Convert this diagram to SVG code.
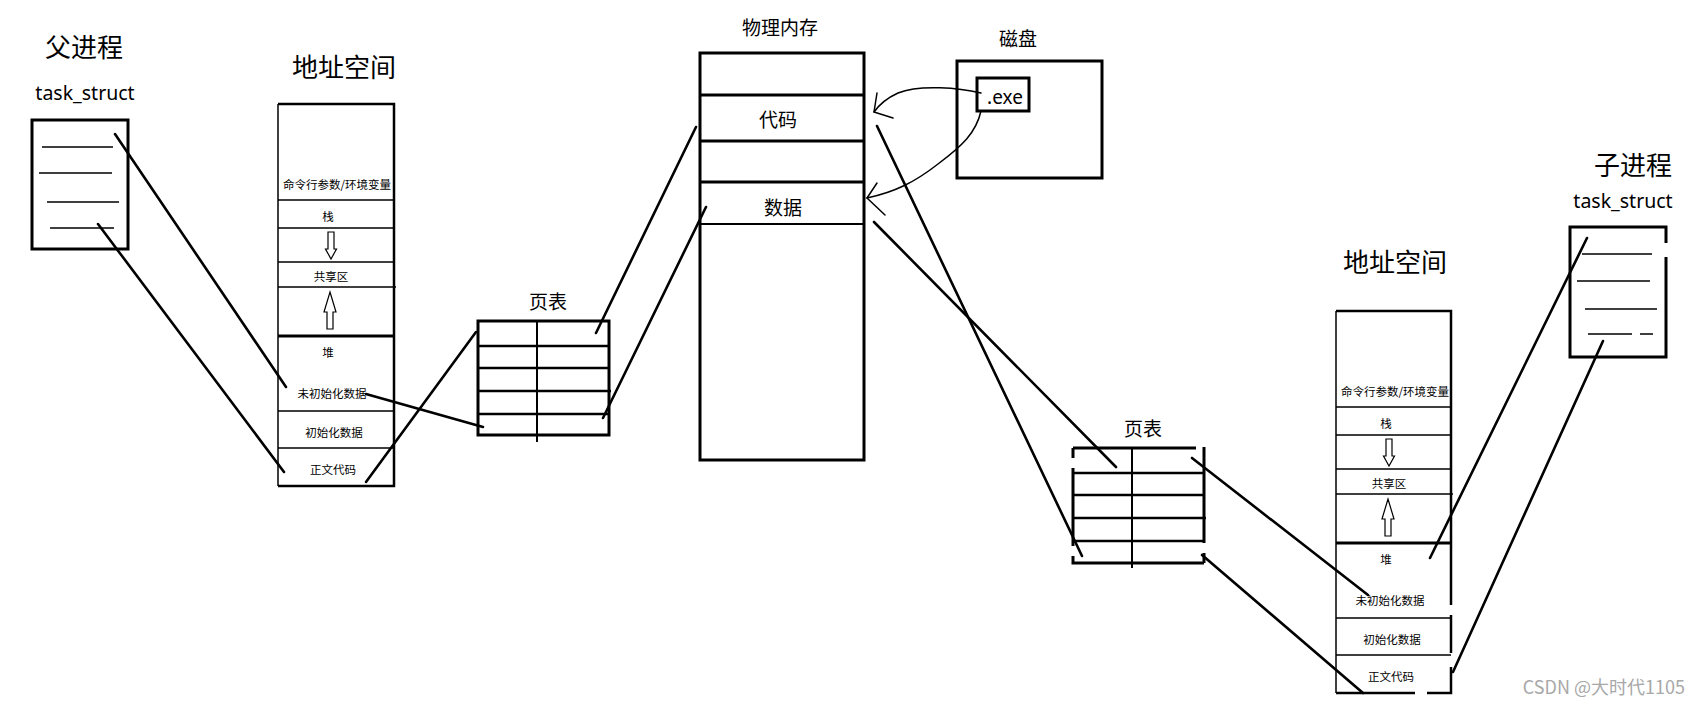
<svg xmlns="http://www.w3.org/2000/svg" width="1699" height="707" viewBox="0 0 1699 707">
<style>
.t{font-family:"Noto Sans CJK SC","Noto Sans",sans-serif;fill:#000;text-anchor:middle;dominant-baseline:central}
.big{font-size:26px}
.mid{font-size:19px}
.sm{font-size:11.5px}
.lat{font-family:"Noto Sans","Noto Sans CJK SC",sans-serif;font-size:19.5px;fill:#000;text-anchor:middle;dominant-baseline:central}
.box{fill:none;stroke:#000;stroke-width:3}
.thin{fill:none;stroke:#000;stroke-width:1.5}
.mh{fill:none;stroke:#000;stroke-width:2.5}
.ar{fill:#fff;stroke:#000;stroke-width:1.2}
.conn{fill:none;stroke:#000;stroke-width:2.6;stroke-linecap:round}
.curve{fill:none;stroke:#000;stroke-width:1.5;stroke-linecap:round;stroke-linejoin:round}
.wm{font-family:"Noto Sans CJK SC","Noto Sans",sans-serif;font-size:18px;fill:#a8a8a8;text-anchor:end}
</style>
<rect width="1699" height="707" fill="#fff"/>

<g id="parent-process">
<text class="t big" x="84" y="45">父进程</text>
<text class="lat" x="85" y="92">task_struct</text>
<rect class="box" x="32" y="120" width="96" height="129"/>
<path class="thin" d="M42,147H113M39,173H112M47,202H119M50,228H114"/>
</g>

<g id="parent-address-space">
<text class="t big" x="344" y="65">地址空间</text>
<path d="M278,104V486" stroke="#000" stroke-width="1.5" fill="none"/>
<path d="M278,104H394V486H278" class="mh"/>
<path class="thin" d="M278,200H394M278,228H394M278,262H394M278,287H396M278,411H394M278,448H394"/>
<path class="box" d="M278,336H394"/>
<text class="t sm" x="337" y="184">命令行参数/环境变量</text>
<text class="t sm" x="328" y="216">栈</text>
<path class="ar" d="M328,232H334V249H336.5L331,259L325.5,249H328Z"/>
<text class="t sm" x="331" y="276">共享区</text>
<path class="ar" d="M330,292L336,312H333V329H327V312H324Z"/>
<text class="t sm" x="328" y="352">堆</text>
<text class="t sm" x="332" y="393">未初始化数据</text>
<text class="t sm" x="334" y="432">初始化数据</text>
<text class="t sm" x="333" y="469">正文代码</text>
</g>

<g id="parent-page-table">
<text class="t mid" x="548" y="300">页表</text>
<rect class="box" x="478" y="321" width="131" height="114"/>
<path class="mh" d="M478,346H609M478,368H609M478,391H611M478,414H609"/>
<path d="M537,321V442" stroke="#000" stroke-width="2" fill="none"/>
</g>

<g id="physical-memory">
<text class="t mid" x="780" y="26">物理内存</text>
<rect class="box" x="700" y="53" width="164" height="407"/>
<path class="box" d="M700,95H864M700,141H864M700,182H864"/>
<path d="M700,224H864" stroke="#000" stroke-width="2" fill="none"/>
<text class="t mid" x="778" y="118">代码</text>
<text class="t mid" x="783" y="206">数据</text>
</g>

<g id="disk">
<text class="t mid" x="1018" y="37">磁盘</text>
<rect class="box" x="957" y="61" width="145" height="117"/>
<rect class="box" x="977" y="78" width="52" height="33"/>
<text class="lat" x="1005" y="97" style="font-size:19px">.exe</text>
</g>

<g id="child-page-table">
<text class="t mid" x="1143" y="427">页表</text>
<path class="box" d="M1073,448H1196M1073,448V458M1073,468V546M1073,556V563H1204M1204,447V543M1204,553V563"/>
<path class="mh" d="M1073,473H1204M1073,495H1204M1073,518H1206M1073,541H1204"/>
<path d="M1132,448V568" stroke="#000" stroke-width="2" fill="none"/>
</g>

<g id="child-address-space">
<text class="t big" x="1395" y="260">地址空间</text>
<path d="M1336,311V693" stroke="#000" stroke-width="1.5" fill="none"/>
<path class="mh" d="M1336,311H1451V605M1451,615V653M1451,667V693H1427M1415,693H1336"/>
<path class="thin" d="M1336,407H1451M1336,435H1451M1336,469H1451M1336,494H1453M1336,618H1451M1336,655H1451"/>
<path class="box" d="M1336,543H1451"/>
<text class="t sm" x="1395" y="391">命令行参数/环境变量</text>
<text class="t sm" x="1386" y="423">栈</text>
<path class="ar" d="M1386,439H1392V456H1394.5L1389,466L1383.5,456H1386Z"/>
<text class="t sm" x="1389" y="483">共享区</text>
<path class="ar" d="M1388,499L1394,519H1391V536H1385V519H1382Z"/>
<text class="t sm" x="1386" y="559">堆</text>
<text class="t sm" x="1390" y="600">未初始化数据</text>
<text class="t sm" x="1392" y="639">初始化数据</text>
<text class="t sm" x="1391" y="676">正文代码</text>
</g>

<g id="child-process">
<text class="t big" x="1633" y="163">子进程</text>
<text class="lat" x="1623" y="200">task_struct</text>
<path class="box" d="M1666,257V357H1570V227H1666V243"/>
<path class="thin" d="M1582,254H1652M1577,281H1650M1585,309H1657M1588,334H1632M1640,334H1653"/>
</g>

<g id="connectors">
<path class="conn" d="M115,134L286,387"/>
<path class="conn" d="M98,224L284,472"/>
<path class="conn" d="M366,394L483,427"/>
<path class="conn" d="M476,332L366,482"/>
<path class="conn" d="M596,333L696,127"/>
<path class="conn" d="M603,418L706,207"/>
<path class="curve" d="M981,93C960,88 920,84 898,93C887,98 879,105 874,112"/>
<path class="curve" d="M877,93L874,112L893,118"/>
<path class="curve" d="M981,111C976,133 962,146 938,164C915,182 895,192 867,198"/>
<path class="curve" d="M877,183L867,198L885,215"/>
<path class="conn" d="M877,126L1082,556"/>
<path class="conn" d="M874,222L1116,467"/>
<path class="conn" d="M1192,458L1368,595"/>
<path class="conn" d="M1202,555L1363,693"/>
<path class="conn" d="M1587,238L1430,558"/>
<path class="conn" d="M1603,341L1453,672"/>
</g>

<text class="wm" x="1685" y="694">CSDN @大时代1105</text>
</svg>
